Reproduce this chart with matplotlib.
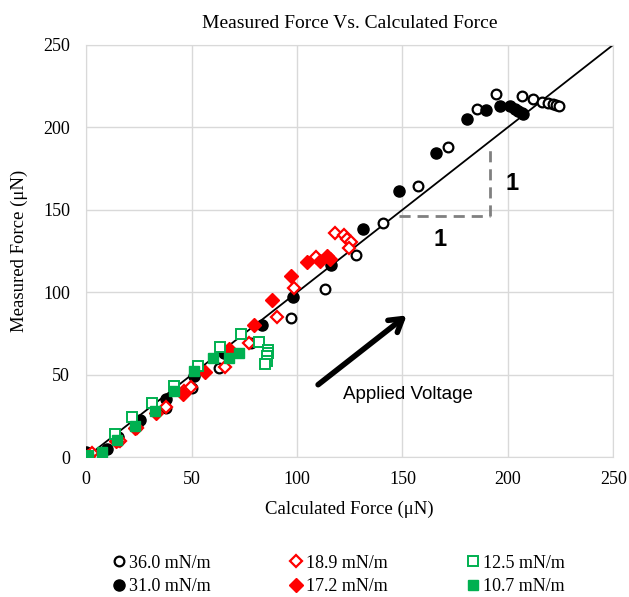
import matplotlib
matplotlib.use("Agg")
import matplotlib.pyplot as plt

# 36.0 mN/m (open black circles)
x_360 = [1, 15, 24, 37.9, 50, 63.2, 78.2, 97.2, 113.3, 127.8, 140.9, 157.2, 171.7, 185.2,
         194.6, 206.5, 212.0, 216.4, 219.1, 221.2, 222.7, 224.3]
y_360 = [1, 10, 19, 30, 42, 54, 69, 84.7, 102.1, 122.3, 141.9, 164.5, 187.8, 211.2,
         220.3, 219.1, 217.3, 215.6, 214.7, 214.1, 213.2, 212.6]

# 31.0 mN/m (filled black circles)
x_310 = [0, 9.8, 15.3, 25.6, 37.9, 51.3, 65.4, 83.3, 98.2, 116.0, 131.4, 148.5, 165.9,
         180.4, 189.6, 196.2, 200.9, 203.3, 204.9, 206.5, 207.3]
y_310 = [3.5, 5, 12.6, 22.5, 35.3, 49, 63.5, 80.3, 97.1, 116.7, 138.5, 161.1, 184.7,
         205.0, 210.6, 213.0, 213.0, 211.0, 209.6, 208.6, 208.0]

# 18.9 mN/m (open red diamonds)
x_189 = [2.7, 16, 24, 37.9, 46.6, 49.6, 65.9, 77.4, 90.4, 98.7, 109.0, 118.0, 122.3,
         123.8, 125.4, 124.8]
y_189 = [2.5, 9.6, 17.7, 30.4, 39.9, 42.9, 55.0, 69.2, 85.3, 102.9, 121.5, 136.2, 134.8,
         132.4, 130.2, 126.8]

# 17.2 mN/m (filled red diamonds)
x_172 = [1, 14, 23, 33, 46.1, 56.4, 67.9, 79.6, 88.3, 97.2, 104.7, 110.9, 114.2, 115.6]
y_172 = [1, 10, 18, 27, 38.5, 51.4, 65.6, 80.3, 95.5, 110.0, 118.5, 119.1, 122.1, 120.3]

# 12.5 mN/m (open green squares)
x_125 = [1, 13.7, 21.7, 31.1, 41.7, 53.2, 63.5, 73.3, 82.1, 86.4, 86.4, 85.9, 85.6, 84.8]
y_125 = [1, 14.1, 24.7, 32.8, 43.5, 55.6, 66.8, 74.8, 69.6, 65.2, 63.2, 61.1, 58.1, 56.7]

# 10.7 mN/m (filled green squares)
x_107 = [1, 7.4, 14.5, 23.2, 32.7, 41.8, 51.3, 60.0, 67.9, 72.7]
y_107 = [0.5, 3.5, 10.6, 18.7, 27.8, 39.9, 52.0, 60.1, 60.1, 63.2]

ticks = [0, 50, 100, 150, 200, 250]
fit_x = [0, 250]

RED = '#FF0000'
GREEN = '#00B050'
GRID = '#D9D9D9'

plt.rcParams['font.family'] = ['Liberation Serif', 'DejaVu Serif']

fig = plt.figure(figsize=(6.29, 5.97), dpi=100)
ax = fig.add_axes([0.137, 0.234, 0.838, 0.691])

ax.plot(fit_x, fit_x, color='black', lw=1.3, zorder=2)

ms = 7
h1, = ax.plot(x_360, y_360, 'o', mfc='white', mec='black', mew=1.6, ms=ms, ls='none', zorder=3,
              label='36.0 mN/m')
h2, = ax.plot(x_310, y_310, 'o', mfc='black', mec='black', ms=ms + 1, ls='none', zorder=3,
              label='31.0 mN/m')
h3, = ax.plot(x_189, y_189, 'D', mfc='white', mec=RED, mew=1.6, ms=ms - 1, ls='none', zorder=3,
              label='18.9 mN/m')
h4, = ax.plot(x_172, y_172, 'D', mfc=RED, mec=RED, ms=ms, ls='none', zorder=3,
              label='17.2 mN/m')
h5, = ax.plot(x_125, y_125, 's', mfc='white', mec=GREEN, mew=1.4, ms=ms - 0.5, ls='none', zorder=3,
              label='12.5 mN/m')
h6, = ax.plot(x_107, y_107, 's', mfc=GREEN, mec=GREEN, ms=ms, ls='none', zorder=3,
              label='10.7 mN/m')

# slope triangle
ax.plot([148.3, 191.5], [146.4, 146.4], color='#808080', lw=2, ls=(0, (4, 2.5)), zorder=1)
ax.plot([191.5, 191.5], [146.4, 188.8], color='#808080', lw=2, ls=(0, (4, 2.5)), zorder=1)
ax.text(167.8, 132, '1', family='Liberation Sans', fontsize=17, fontweight='bold',
        ha='center', va='center')
ax.text(202, 166, '1', family='Liberation Sans', fontsize=17, fontweight='bold',
        ha='center', va='center')

ax.annotate('', xy=(152, 86), xytext=(110, 44),
            arrowprops=dict(arrowstyle='->, head_length=0.9, head_width=0.55', lw=4,
                            color='black', shrinkA=0, shrinkB=0))
ax.text(152.5, 38, 'Applied Voltage', family='Liberation Sans', fontsize=13.5,
        ha='center', va='center')

ax.set_xlim(0, 250)
ax.set_ylim(0, 250)
ax.set_xticks(ticks)
ax.set_yticks(ticks)
ax.tick_params(length=0, labelsize=13)
ax.tick_params(axis='x', pad=10)
ax.tick_params(axis='y', pad=11.5)
ax.grid(True, color=GRID, lw=1)
ax.set_axisbelow(True)
for s in ax.spines.values():
    s.set_color(GRID)

ax.set_title('Measured Force Vs. Calculated Force', fontsize=14, pad=12)
ax.set_xlabel('Calculated Force (μN)', fontsize=13.5, labelpad=9)
ax.set_ylabel('Measured Force (μN)', fontsize=13.5, labelpad=11)

fig.legend(handles=[h1, h2, h3, h4, h5, h6], ncol=3, loc='center left',
           bbox_to_anchor=(0.178, 0.037), frameon=False, fontsize=13,
           handletextpad=0.16, columnspacing=4.3, handlelength=0.8, labelspacing=0.35,
           borderaxespad=0, borderpad=0)

fig.savefig('out.png', dpi=100)
